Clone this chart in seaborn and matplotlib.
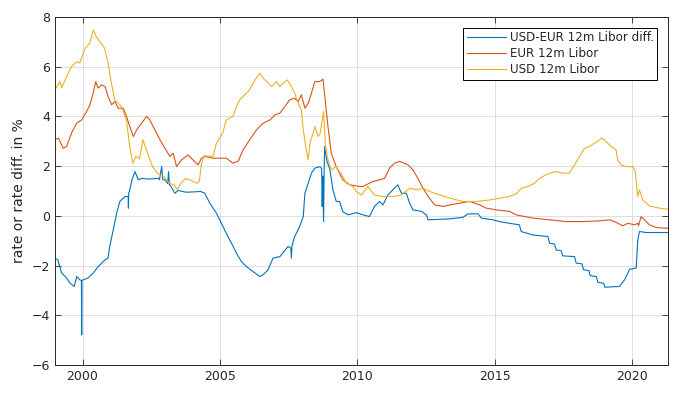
import pandas as pd
import matplotlib
matplotlib.use("Agg")
import matplotlib.pyplot as plt
import seaborn as sns

# Values (decimal year, percent)
diff_years = [1999.0, 1999.1, 1999.24, 1999.42, 1999.55, 1999.7, 1999.79, 1999.9, 1999.96, 1999.97,
              1999.98, 2000.03, 2000.2, 2000.39, 2000.57, 2000.82, 2000.93, 2000.99, 2001.12, 2001.24,
              2001.36, 2001.55, 2001.66, 2001.67, 2001.68, 2001.72, 2001.8, 2001.91, 2002.03, 2002.15,
              2002.39, 2002.76, 2002.8, 2002.88, 2002.92, 2003.0, 2003.1, 2003.13, 2003.16, 2003.18,
              2003.36, 2003.48, 2003.78, 2004.3, 2004.45, 2004.63, 2004.87, 2005.05, 2005.23, 2005.42,
              2005.6, 2005.78, 2005.96, 2006.2, 2006.45, 2006.57, 2006.75, 2006.93, 2007.18, 2007.48,
              2007.58, 2007.6, 2007.62, 2007.72, 2007.9, 2008.03, 2008.09, 2008.21, 2008.33, 2008.45,
              2008.63, 2008.7, 2008.72, 2008.74, 2008.77, 2008.79, 2008.81, 2008.88, 2009.0, 2009.11,
              2009.23, 2009.35, 2009.47, 2009.66, 2009.96, 2010.08, 2010.44, 2010.62, 2010.81, 2010.93,
              2011.11, 2011.29, 2011.47, 2011.6, 2011.78, 2011.9, 2012.02, 2012.33, 2012.51, 2012.57,
              2013.36, 2013.84, 2014.02, 2014.39, 2014.51, 2014.93, 2015.17, 2015.53, 2015.89, 2015.96,
              2016.38, 2016.93, 2016.99, 2017.17, 2017.23, 2017.41, 2017.47, 2017.9, 2017.96, 2018.17,
              2018.23, 2018.42, 2018.47, 2018.69, 2018.75, 2018.96, 2019.0, 2019.53, 2019.72, 2019.84,
              2019.9, 2020.14, 2020.2, 2020.26, 2020.5, 2021.29]
diff_vals = [-1.7, -1.77, -2.3, -2.5, -2.71, -2.84, -2.44, -2.57, -2.6, -4.79,
             -2.6, -2.57, -2.5, -2.3, -2.04, -1.77, -1.7, -1.23, -0.56, 0.11,
             0.58, 0.78, 0.78, 0.31, 0.9, 1.05, 1.45, 1.78, 1.45, 1.51,
             1.48, 1.51, 1.45, 1.98, 1.45, 1.45, 1.3, 1.78, 1.25, 1.25,
             0.91, 1.02, 0.95, 0.98, 0.91, 0.51, 0.11, -0.29, -0.7, -1.1,
             -1.5, -1.84, -2.04, -2.24, -2.44, -2.37, -2.17, -1.7, -1.64, -1.23,
             -1.3, -1.7, -1.2, -0.83, -0.43, -0.03, 0.91, 1.31, 1.72, 1.92,
             1.98, 1.9, 0.38, 1.6, -0.23, 1.8, 2.79, 2.25, 1.85, 1.05,
             0.58, 0.58, 0.17, 0.04, 0.13, 0.08, -0.03, 0.38, 0.58, 0.44,
             0.84, 1.05, 1.25, 0.91, 0.91, 0.51, 0.24, 0.18, 0.04, -0.16,
             -0.12, -0.06, 0.08, 0.08, -0.09, -0.16, -0.23, -0.3, -0.36, -0.63,
             -0.77, -0.83, -1.1, -1.13, -1.37, -1.4, -1.61, -1.64, -1.9, -1.93,
             -2.17, -2.2, -2.41, -2.44, -2.68, -2.71, -2.87, -2.84, -2.57, -2.3,
             -2.15, -2.1, -0.97, -0.63, -0.67, -0.67]

eur_years = [1999.0, 1999.12, 1999.3, 1999.42, 1999.6, 1999.79, 1999.97, 2000.15, 2000.27, 2000.39,
             2000.48, 2000.57, 2000.7, 2000.82, 2000.93, 2001.06, 2001.18, 2001.3, 2001.48, 2001.6,
             2001.72, 2001.85, 2001.97, 2002.15, 2002.33, 2002.45, 2002.63, 2002.82, 2003.0, 2003.18,
             2003.3, 2003.42, 2003.6, 2003.84, 2004.02, 2004.2, 2004.33, 2004.45, 2004.75, 2005.23,
             2005.47, 2005.66, 2005.84, 2006.08, 2006.33, 2006.57, 2006.82, 2007.0, 2007.18, 2007.36,
             2007.54, 2007.72, 2007.84, 2007.96, 2008.09, 2008.21, 2008.33, 2008.45, 2008.63, 2008.75,
             2008.84, 2008.93, 2009.05, 2009.23, 2009.47, 2009.72, 2010.08, 2010.2, 2010.56, 2010.81,
             2010.99, 2011.17, 2011.35, 2011.54, 2011.84, 2012.02, 2012.2, 2012.39, 2012.57, 2012.81,
             2013.12, 2013.36, 2013.72, 2014.08, 2014.45, 2014.69, 2015.06, 2015.54, 2015.77, 2016.38,
             2016.99, 2017.6, 2018.2, 2018.81, 2019.17, 2019.35, 2019.66, 2019.84, 2020.08, 2020.2,
             2020.23, 2020.32, 2020.44, 2020.62, 2020.87, 2021.29]
eur_vals = [3.06, 3.13, 2.72, 2.79, 3.33, 3.73, 3.86, 4.2, 4.47, 4.94,
            5.4, 5.14, 5.27, 5.2, 4.8, 4.47, 4.6, 4.33, 4.33, 4.0,
            3.59, 3.19, 3.46, 3.73, 4.0, 3.86, 3.46, 3.06, 2.72, 2.39,
            2.52, 1.98, 2.25, 2.45, 2.25, 2.05, 2.32, 2.39, 2.32, 2.32,
            2.12, 2.19, 2.65, 3.06, 3.46, 3.73, 3.86, 4.06, 4.13, 4.4,
            4.67, 4.73, 4.6, 4.87, 4.33, 4.53, 4.94, 5.4, 5.4, 5.5,
            4.53, 3.59, 2.52, 1.98, 1.45, 1.25, 1.18, 1.18, 1.38, 1.45,
            1.51, 1.92, 2.12, 2.19, 2.05, 1.85, 1.51, 1.11, 0.78, 0.44,
            0.38, 0.44, 0.51, 0.58, 0.44, 0.31, 0.24, 0.18, 0.04, -0.09,
            -0.16, -0.23, -0.23, -0.2, -0.16, -0.23, -0.4, -0.3, -0.36, -0.3,
            -0.4, -0.03, -0.16, -0.36, -0.47, -0.5]

usd_years = [1999.0, 1999.18, 1999.24, 1999.48, 1999.6, 1999.79, 1999.9, 2000.1, 2000.27, 2000.39,
             2000.5, 2000.8, 2000.93, 2001.03, 2001.17, 2001.3, 2001.42, 2001.6, 2001.7, 2001.83,
             2001.95, 2002.07, 2002.2, 2002.37, 2002.55, 2002.73, 2002.97, 2003.15, 2003.33, 2003.45,
             2003.57, 2003.75, 2003.93, 2004.17, 2004.25, 2004.33, 2004.42, 2004.75, 2004.87, 2005.1,
             2005.23, 2005.47, 2005.6, 2005.72, 2005.84, 2006.08, 2006.27, 2006.45, 2006.57, 2006.7,
             2006.88, 2007.06, 2007.18, 2007.3, 2007.45, 2007.6, 2007.72, 2007.84, 2007.96, 2008.03,
             2008.12, 2008.21, 2008.27, 2008.39, 2008.45, 2008.57, 2008.65, 2008.72, 2008.77, 2008.84,
             2008.93, 2009.05, 2009.23, 2009.47, 2009.6, 2009.72, 2009.84, 2009.96, 2010.14, 2010.38,
             2010.62, 2010.93, 2011.29, 2011.6, 2011.9, 2012.15, 2012.39, 2012.63, 2013.0, 2013.36,
             2013.84, 2014.33, 2014.81, 2015.17, 2015.53, 2015.77, 2015.96, 2016.2, 2016.44, 2016.56,
             2016.74, 2016.99, 2017.23, 2017.47, 2017.71, 2017.9, 2018.08, 2018.26, 2018.44, 2018.62,
             2018.81, 2018.9, 2019.05, 2019.23, 2019.41, 2019.47, 2019.59, 2019.78, 2020.02, 2020.11,
             2020.16, 2020.2, 2020.26, 2020.38, 2020.62, 2020.99, 2021.29]
usd_vals = [5.07, 5.4, 5.15, 5.74, 6.0, 6.2, 6.15, 6.75, 6.95, 7.48,
            7.21, 6.75, 6.15, 5.47, 4.67, 4.53, 4.4, 3.86, 2.92, 2.12,
            2.4, 2.3, 3.06, 2.5, 1.98, 1.71, 1.57, 1.31, 1.25, 1.05,
            1.3, 1.5, 1.44, 1.31, 1.4, 2.1, 2.42, 2.39, 2.92, 3.33,
            3.86, 3.99, 4.4, 4.67, 4.8, 5.07, 5.47, 5.74, 5.54, 5.4,
            5.2, 5.4, 5.2, 5.34, 5.47, 5.2, 4.94, 4.53, 4.27, 3.46,
            2.79, 2.25, 2.92, 3.33, 3.59, 3.2, 3.33, 3.86, 4.2, 2.79,
            2.25, 1.85, 1.98, 1.58, 1.31, 1.25, 1.18, 0.98, 0.84, 1.18,
            0.84, 0.78, 0.78, 0.84, 1.11, 1.05, 1.11, 0.98, 0.84, 0.71,
            0.58, 0.58, 0.64, 0.71, 0.78, 0.88, 1.11, 1.18, 1.31, 1.45,
            1.58, 1.72, 1.78, 1.72, 1.72, 2.05, 2.39, 2.72, 2.79, 2.92,
            3.06, 3.13, 2.99, 2.79, 2.65, 2.25, 2.05, 1.98, 1.98, 1.78,
            1.18, 0.78, 1.05, 0.64, 0.4, 0.31, 0.27]

series_names = ["USD-EUR 12m Libor diff.", "EUR 12m Libor", "USD 12m Libor"]
colors = ["#0072BD", "#D95319", "#EDB120"]
x_ticks = [2000, 2005, 2010, 2015, 2020]
y_ticks = [-6, -4, -2, 0, 2, 4, 6, 8]

df = pd.concat([
    pd.DataFrame({"year": diff_years, "value": diff_vals, "series": series_names[0]}),
    pd.DataFrame({"year": eur_years, "value": eur_vals, "series": series_names[1]}),
    pd.DataFrame({"year": usd_years, "value": usd_vals, "series": series_names[2]}),
], ignore_index=True)

sns.set_style("ticks")
plt.rcParams['font.family'] = ['DejaVu Sans']

fig = plt.figure(figsize=(6.86, 3.98), dpi=100)
ax = fig.add_axes([0.0802, 0.0829, 0.8936, 0.8744])

sns.lineplot(data=df, x="year", y="value", hue="series", hue_order=series_names,
             palette=colors, sort=False, estimator=None, linewidth=0.8, ax=ax)

ax.set_xlim(1999.0, 2021.3)
ax.set_ylim(-6, 8)
ax.set_xticks(x_ticks)
ax.set_xticklabels([str(t) for t in x_ticks])
ax.set_yticks(y_ticks)
ax.grid(True, color="#d9d9d9", linewidth=0.6)
ax.set_axisbelow(True)
ax.tick_params(direction="in", length=4, width=0.6, top=True, right=True,
               labelsize=9, colors="#262626")
for s in ax.spines.values():
    s.set_visible(True)
    s.set_linewidth(0.7)
    s.set_color("#262626")
ax.set_xlabel("")
ax.set_ylabel("rate or rate diff. in %", fontsize=10, color="#262626")

leg = ax.legend(loc="upper right", fontsize=8.6, handlelength=3.3, fancybox=False,
                framealpha=1, edgecolor="black", borderaxespad=0.9,
                labelspacing=0.25, borderpad=0.3, handletextpad=0.3)
leg.get_frame().set_linewidth(0.7)

plt.savefig("out.png", dpi=100)
